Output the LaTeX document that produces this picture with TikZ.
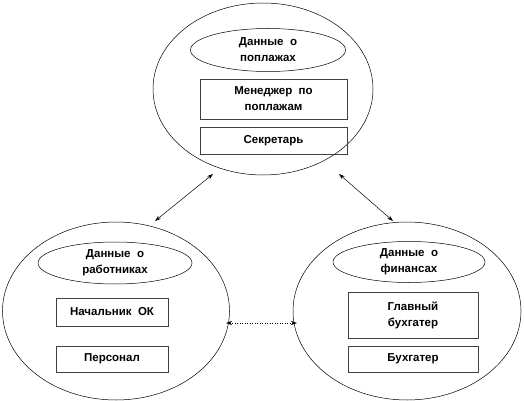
\documentclass[tikz,border=0pt]{standalone}
\usepackage{fontspec}
\setmainfont{Liberation Sans}
\usetikzlibrary{arrows.meta,shapes.geometric}
\begin{document}
\begin{tikzpicture}[x=1pt,y=-1pt,
  txt/.style={font=\bfseries\fontsize{11.5}{16}\selectfont,align=center},
  big/.style={draw,ellipse,line width=0.5pt},
  inner/.style={draw,ellipse,line width=0.5pt,txt,inner sep=0pt},
  rbox/.style={draw=black!75,line width=0.8pt,txt,inner sep=0pt},
  link/.style={line width=0.5pt,{Stealth[length=6pt,width=4pt]}-{Stealth[length=6pt,width=4pt]}}]
\useasboundingbox (0,0) rectangle (524,401);
% top group
\node[big,minimum width=220pt,minimum height=172pt] (top) at (263,89) {};
\node[inner,minimum width=155pt,minimum height=43pt] (topd) at (268,50) {Данные~~о\\поплажах};
\node[rbox,minimum width=147pt,minimum height=40pt] (mgr) at (273.5,99) {Менеджер~~по\\поплажам};
\node[rbox,minimum width=147pt,minimum height=27pt] (sec) at (273.5,141) {Секретарь};
% left group
\node[big,minimum width=227pt,minimum height=178pt] (left) at (116,311) {};
\node[inner,minimum width=154pt,minimum height=42pt] (leftd) at (115,263) {Данные~~о\\работниках};
\node[rbox,minimum width=112pt,minimum height=28pt] (ok) at (112,312) {Начальник~~ОК};
\node[rbox,minimum width=112pt,minimum height=26pt] (pers) at (112,359) {Персонал};
% right group
\node[big,minimum width=228pt,minimum height=178pt] (right) at (407,311) {};
\node[inner,minimum width=152pt,minimum height=41pt] (rightd) at (409,262) {Данные~~о\\финансах};
\node[rbox,minimum width=130pt,minimum height=46pt] (gb) at (413,315) {Главный\\бухгатер};
\node[rbox,minimum width=130pt,minimum height=26pt] (buh) at (413,359) {Бухгатер};
% connectors
\coordinate (a1) at (213,174);
\coordinate (a2) at (155,221);
\coordinate (b1) at (339,174);
\coordinate (b2) at (393,221);
\coordinate (c1) at (226,323);
\coordinate (c2) at (297,323);
\draw[link] (a1) -- (a2);
\draw[link] (b1) -- (b2);
\draw[link,dotted] (c1) -- (c2);
\end{tikzpicture}
\end{document}
